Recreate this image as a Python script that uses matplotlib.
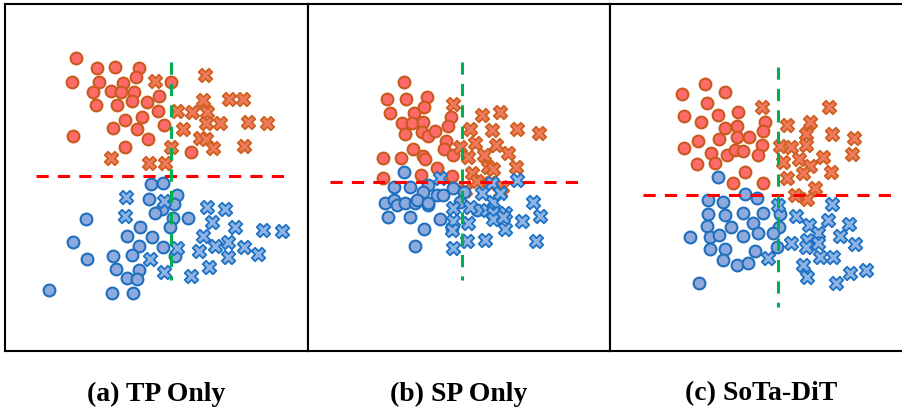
import numpy as np
import matplotlib
matplotlib.use("Agg")
import matplotlib.pyplot as plt

# 2-D embedding of features, one panel per model variant.
# Each group is a list of (x, y) points; "o" = circles, "x" = crosses.
tp_orange_o = [(76, 58), (97, 68), (115, 67), (139, 68), (136, 77), (72, 82), (99, 82), (123, 83),
               (171, 82), (93, 92), (111, 91), (121, 92), (134, 92), (159, 96), (96, 105), (117, 105),
               (132, 101), (147, 102), (158, 111), (142, 117), (125, 120), (113, 128), (137, 129),
               (164, 125), (73, 136), (148, 139), (125, 147), (191, 152)]
tp_orange_x = [(205, 75), (155, 81), (203, 100), (229, 99), (243, 99), (177, 111), (192, 112),
               (207, 112), (206, 123), (220, 123), (248, 122), (267, 123), (183, 129), (200, 138),
               (206, 139), (213, 148), (244, 146), (171, 147), (111, 158), (149, 163), (165, 163)]
tp_blue_o = [(151, 184), (163, 183), (177, 195), (149, 199), (174, 204), (162, 209), (155, 213),
             (86, 219), (173, 218), (188, 218), (170, 227), (140, 227), (127, 236), (152, 237),
             (73, 242), (139, 246), (163, 247), (87, 259), (113, 256), (132, 255), (175, 256),
             (116, 269), (139, 270), (127, 278), (137, 279), (49, 290), (112, 293), (133, 293)]
tp_blue_x = [(126, 197), (164, 201), (125, 216), (207, 207), (225, 209), (212, 222), (235, 227),
             (263, 230), (282, 231), (203, 236), (228, 242), (215, 246), (177, 248), (244, 247),
             (199, 251), (228, 257), (258, 254), (150, 259), (209, 267), (164, 272), (191, 276)]

sp_orange_o = [(404, 82), (387, 99), (406, 99), (427, 97), (424, 107), (390, 113), (414, 113),
               (451, 117), (402, 123), (412, 123), (423, 122), (448, 126), (405, 134), (422, 132),
               (428, 136), (435, 131), (446, 141), (413, 149), (444, 149), (453, 155), (423, 156),
               (425, 159), (383, 158), (401, 158), (437, 168), (421, 175), (383, 178), (452, 176)]
sp_orange_x = [(453, 104), (482, 115), (500, 112), (470, 129), (492, 130), (517, 129), (539, 133),
               (475, 143), (496, 145), (460, 147), (508, 153), (484, 155), (468, 157), (516, 167),
               (488, 167), (493, 169), (472, 173), (477, 181), (502, 187), (490, 183), (500, 192),
               (465, 190)]
sp_blue_o = [(404, 172), (394, 187), (410, 187), (428, 185), (423, 192), (437, 195), (443, 195),
             (453, 188), (464, 192), (385, 203), (394, 200), (397, 205), (405, 203), (415, 203),
             (417, 200), (428, 205), (428, 203), (460, 202), (477, 210), (388, 217), (410, 217),
             (440, 219), (452, 228), (424, 229), (415, 246)]
sp_blue_x = [(440, 178), (517, 180), (482, 193), (493, 202), (453, 208), (470, 207), (487, 210),
             (493, 213), (505, 213), (533, 202), (540, 216), (453, 221), (468, 223), (493, 219),
             (503, 217), (522, 221), (505, 229), (452, 230), (467, 241), (485, 240), (536, 241),
             (453, 248), (492, 183), (500, 193)]

ours_orange_o = [(705, 84), (682, 94), (725, 92), (707, 103), (684, 116), (718, 115), (738, 112),
                 (701, 122), (765, 122), (725, 128), (737, 126), (763, 131), (698, 141), (719, 139),
                 (737, 137), (749, 137), (762, 145), (684, 148), (711, 153), (727, 155), (735, 150),
                 (743, 151), (758, 155), (697, 164), (715, 163), (745, 172), (733, 183), (763, 183)]
ours_orange_x = [(762, 107), (829, 107), (787, 125), (810, 122), (806, 134), (832, 134), (854, 138),
                 (780, 146), (791, 147), (806, 145), (852, 154), (783, 162), (799, 159), (823, 157),
                 (810, 166), (831, 172), (803, 173), (787, 178), (815, 188), (795, 195), (807, 199)]
ours_blue_o = [(718, 177), (745, 194), (757, 198), (708, 200), (723, 202), (708, 214), (725, 215),
               (743, 213), (763, 213), (780, 214), (707, 226), (731, 227), (753, 223), (779, 227),
               (690, 237), (710, 237), (719, 235), (743, 236), (758, 233), (773, 233), (710, 249),
               (725, 249), (755, 251), (777, 247), (723, 260), (737, 265), (748, 263), (699, 283)]
ours_blue_x = [(778, 205), (832, 204), (796, 216), (809, 225), (828, 220), (849, 224), (818, 233),
               (840, 236), (791, 243), (807, 240), (818, 243), (806, 247), (855, 244), (820, 257),
               (833, 257), (768, 258), (803, 265), (807, 277), (850, 273), (866, 270), (836, 283)]

# decision boundaries: (y, x0, x1) horizontal, (x, y0, y1) vertical
h_bounds = [(176, 36, 287), (182, 330, 582), (195, 643, 893)]
v_bounds = [(171, 62, 280), (462, 62, 280), (778, 67, 307)]

captions = ["(a) TP Only", "(b) SP Only", "(c) SoTa-DiT"]
panel_x = [(5, 308), (308, 610), (610, 912)]
panel_y = (4, 351)

W, H = 903, 411
fig = plt.figure(figsize=(W / 100, H / 100), dpi=100)

groups = [
    (tp_orange_o, tp_orange_x, tp_blue_o, tp_blue_x),
    (sp_orange_o, sp_orange_x, sp_blue_o, sp_blue_x),
    (ours_orange_o, ours_orange_x, ours_blue_o, ours_blue_x),
]

styles = [
    dict(marker="o", s=72, c="#ff6a6a", edgecolors="#c95a1c", linewidths=1.5),
    dict(marker="X", s=95, c="#f07a5e", edgecolors="#cf5f1e", linewidths=1.3),
    dict(marker="o", s=72, c="#8eaadc", edgecolors="#1f6fbf", linewidths=1.5),
    dict(marker="X", s=95, c="#8fb3e2", edgecolors="#1e72c6", linewidths=1.3),
]

for i, (xs, grp) in enumerate(zip(panel_x, groups)):
    ax = fig.add_axes([xs[0] / W, 1 - panel_y[1] / H, (xs[1] - xs[0]) / W,
                       (panel_y[1] - panel_y[0]) / H])
    ax.set_xlim(xs)
    ax.set_ylim(panel_y[1], panel_y[0])
    for pts, st in zip(grp, styles):
        p = np.array(pts)
        ax.scatter(p[:, 0], p[:, 1], zorder=2, **st)
    hy, hx0, hx1 = h_bounds[i]
    ax.plot([hx0, hx1], [hy, hy], color="#ff0000", lw=2.2, dashes=(4, 3), zorder=3)
    vx, vy0, vy1 = v_bounds[i]
    ax.plot([vx, vx], [vy0, vy1], color="#00b050", lw=2.2, dashes=(4, 3), zorder=3)
    ax.set_xticks([])
    ax.set_yticks([])
    for sp in ax.spines.values():
        sp.set_linewidth(1.5)
        sp.set_color("black")
    fig.text(((xs[0] + min(xs[1], W)) / 2 + (5 if i == 2 else 0)) / W, 1 - 394 / H, captions[i],
             ha="center", va="center", fontsize=20, fontweight="bold",
             family="Liberation Serif")

fig.savefig("out.png", dpi=100)
